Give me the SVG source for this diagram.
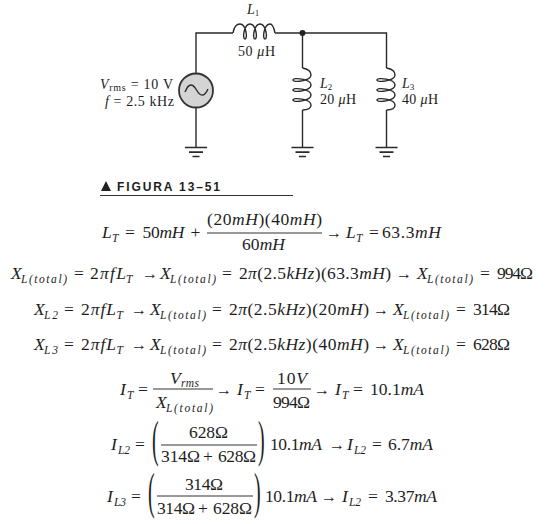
<svg xmlns="http://www.w3.org/2000/svg" width="545" height="524" viewBox="0 0 545 524">
<style>
text{font-family:"Liberation Serif",serif;fill:#1e1e1e}
.w{fill:none;stroke:#2a2a2a;stroke-width:1.4}
.c{fill:none;stroke:#2a2a2a;stroke-width:1.4}
.g{stroke:#2a2a2a;stroke-width:1.6}
.l{font-size:14px}
.e{font-size:17.500px}
.a{font-size:16px}
.s{font-size:11.500px;font-style:italic}
.i{font-style:italic}
.b{stroke:#333;stroke-width:1.100}
.p{font-size:20px}
</style>
<defs>
<g id="gnd"><path class="g" d="M-11,0H11M-7,4.600H7M-3.500,9H3.500"/></g>
<path id="vcoil" class="c" d="M0,0C5.500,1 8.500,3 8.500,7c0,6 -18,8 -18,5c0,-3 18,-1 18,5c0,6 -18,8 -18,5c0,-3 18,-1 18,5c0,6 -18,8 -18,5c0,-3 18,-1 18,5C8.500,40 5.500,42 0,42"/>
</defs>
<rect width="545" height="524" fill="#fff"/>
<g id="connectors">
<path class="w" d="M196,73V33H233M275,33H386.500V68M302.500,33V68M302.500,110V147M386.500,110V147M196,108V147"/>
</g>
<g id="L1"><path class="c" d="M233,33C234,27 236,24 240,24c6,0 8,15 5,15c-3,0 -1,-15 5,-15c6,0 8,15 5,15c-3,0 -1,-15 5,-15c6,0 8,15 5,15c-3,0 -1,-15 5,-15C273,24 274,28 275,33"/>
<text class="l" x="247" y="14"><tspan class="i">L</tspan><tspan font-size="9" dy="2">1</tspan></text>
<text class="l" x="238" y="56" textLength="37">50 <tspan class="i">μ</tspan>H</text></g>
<g id="L2"><use href="#vcoil" x="302.500" y="68"/>
<text class="l" x="320" y="88"><tspan class="i">L</tspan><tspan font-size="9" dy="2">2</tspan></text>
<text class="l" x="320" y="104" textLength="36">20 <tspan class="i">μ</tspan>H</text></g>
<g id="L3"><use href="#vcoil" x="386.500" y="68"/>
<text class="l" x="402" y="88"><tspan class="i">L</tspan><tspan font-size="9" dy="2">3</tspan></text>
<text class="l" x="402" y="104" textLength="36">40 <tspan class="i">μ</tspan>H</text></g>
<g id="junction"><circle cx="302.500" cy="33" r="3" fill="#222"/></g>
<g id="source"><circle cx="196" cy="90.500" r="17" fill="#d4d4d4" stroke="#333" stroke-width="1.800"/>
<path class="c" d="M185,92C189,82 193,84 196.500,90S204,98 208,89"/>
<text class="l" x="100" y="89" textLength="73"><tspan class="i">V</tspan><tspan font-size="10" dy="2">rms</tspan><tspan dy="-2"> = 10 V</tspan></text>
<text class="l" x="105" y="106" textLength="69"><tspan class="i">f</tspan> = 2.5 kHz</text></g>
<g id="ground1"><use href="#gnd" x="196" y="147.500"/></g>
<g id="ground2"><use href="#gnd" x="302.500" y="147.500"/></g>
<g id="ground3"><use href="#gnd" x="386.500" y="147.500"/></g>
<g id="caption"><path d="M101,191L106,181L111,191Z" fill="#222"/>
<text x="117" y="191" font-size="12" font-weight="bold" textLength="103" style="font-family:'Liberation Sans',sans-serif">FIGURA 13–51</text>
<path d="M100,195.500H293" stroke="#333" stroke-width="1.200"/></g>
<g id="equations">
<g id="eq1">
<text class="e i" x="102" y="238">L</text><text class="s" x="112" y="242">T</text>
<text class="e" x="125" y="238">=</text>
<text class="e" x="142.500" y="238" textLength="42">50<tspan class="i">mH</tspan></text>
<text class="e" x="190.500" y="238">+</text>
<text class="e" x="207" y="225" textLength="115">(20<tspan class="i">mH</tspan>)(40<tspan class="i">mH</tspan>)</text>
<path class="b" d="M207,233H322"/>
<text class="e" x="242" y="250" textLength="43">60<tspan class="i">mH</tspan></text>
<text class="a" x="326" y="238">→</text>
<text class="e i" x="346" y="238">L</text><text class="s" x="356" y="242">T</text>
<text class="e" x="369" y="238">=</text>
<text class="e" x="382" y="238" textLength="59">63.3<tspan class="i">mH</tspan></text>
</g>
<g id="eq2">
<text class="e i" x="11" y="279">X</text><text class="s" x="21" y="283" textLength="46">L(total)</text>
<text class="e" x="74" y="279">=</text>
<text class="e" x="90" y="279" textLength="36">2<tspan class="i">πfL</tspan></text><text class="s" x="126" y="283">T</text>
<text class="a" x="142" y="279">→</text>
<text class="e i" x="160" y="279">X</text><text class="s" x="170" y="283" textLength="46">L(total)</text>
<text class="e" x="222" y="279">=</text>
<text class="e" x="239" y="279" textLength="152">2<tspan class="i">π</tspan>(2.5<tspan class="i">kHz</tspan>)(63.3<tspan class="i">mH</tspan>)</text>
<text class="a" x="396" y="279">→</text>
<text class="e i" x="417" y="279">X</text><text class="s" x="427" y="283" textLength="46">L(total)</text>
<text class="e" x="480" y="279">=</text>
<text class="e" x="497" y="279" textLength="36">994Ω</text>
</g>
<g id="eq3">
<text class="e i" x="34" y="315">X</text><text class="s" x="44" y="319" textLength="14">L2</text>
<text class="e" x="64" y="315">=</text>
<text class="e" x="81" y="315" textLength="35">2<tspan class="i">πfL</tspan></text><text class="s" x="116.500" y="319">T</text>
<text class="a" x="131" y="315">→</text>
<text class="e i" x="150" y="315">X</text><text class="s" x="160" y="319" textLength="46">L(total)</text>
<text class="e" x="212" y="315">=</text>
<text class="e" x="229" y="315" textLength="140">2<tspan class="i">π</tspan>(2.5<tspan class="i">kHz</tspan>)(20<tspan class="i">mH</tspan>)</text>
<text class="a" x="373" y="315">→</text>
<text class="e i" x="393" y="315">X</text><text class="s" x="403" y="319" textLength="46">L(total)</text>
<text class="e" x="456" y="315">=</text>
<text class="e" x="473" y="315" textLength="37">314Ω</text>
</g>
<g id="eq4">
<text class="e i" x="34" y="350">X</text><text class="s" x="44" y="354" textLength="14">L3</text>
<text class="e" x="64" y="350">=</text>
<text class="e" x="81" y="350" textLength="35">2<tspan class="i">πfL</tspan></text><text class="s" x="116.500" y="354">T</text>
<text class="a" x="131" y="350">→</text>
<text class="e i" x="150" y="350">X</text><text class="s" x="160" y="354" textLength="46">L(total)</text>
<text class="e" x="212" y="350">=</text>
<text class="e" x="229" y="350" textLength="140">2<tspan class="i">π</tspan>(2.5<tspan class="i">kHz</tspan>)(40<tspan class="i">mH</tspan>)</text>
<text class="a" x="373" y="350">→</text>
<text class="e i" x="393" y="350">X</text><text class="s" x="403" y="354" textLength="46">L(total)</text>
<text class="e" x="456" y="350">=</text>
<text class="e" x="473" y="350" textLength="37">628Ω</text>
</g>
<g id="eq5">
<text class="e i" x="120" y="395">I</text><text class="s" x="127" y="399">T</text>
<text class="e" x="138" y="395">=</text>
<text class="e i" x="170" y="384">V</text><text class="s" x="181" y="387" textLength="18">rms</text>
<path class="b" d="M153,389H213"/>
<text class="e i" x="156" y="408">X</text><text class="s" x="166" y="412" textLength="47">L(total)</text>
<text class="a" x="216" y="395">→</text>
<text class="e i" x="237" y="395">I</text><text class="s" x="244" y="399">T</text>
<text class="e" x="255" y="395">=</text>
<text class="e" x="277" y="384" textLength="30">10<tspan class="i">V</tspan></text>
<path class="b" d="M273,389H311"/>
<text class="e" x="273" y="408" textLength="37">994Ω</text>
<text class="a" x="314" y="395">→</text>
<text class="e i" x="335" y="395">I</text><text class="s" x="342" y="399">T</text>
<text class="e" x="353" y="395">=</text>
<text class="e" x="370" y="395" textLength="54">10.1<tspan class="i">mA</tspan></text>
</g>
<g id="eq6">
<text class="e i" x="111" y="450">I</text><text class="s" x="118" y="454" textLength="12">L2</text>
<text class="e" x="135" y="450">=</text>
<text class="p" transform="translate(152,456) scale(1,2.500)">(</text>
<text class="e" x="189" y="438" textLength="39">628Ω</text>
<path class="b" d="M161,445H257"/>
<text class="e" x="161" y="462" textLength="39">314Ω</text>
<text class="e" x="203" y="462">+</text>
<text class="e" x="218" y="462" textLength="38">628Ω</text>
<text class="p" transform="translate(258,456) scale(1,2.500)">)</text>
<text class="e" x="270" y="450" textLength="52">10.1<tspan class="i">mA</tspan></text>
<text class="a" x="329" y="450">→</text>
<text class="e i" x="347" y="450">I</text><text class="s" x="354" y="454" textLength="12">L2</text>
<text class="e" x="372" y="450">=</text>
<text class="e" x="388" y="450" textLength="45">6.7<tspan class="i">mA</tspan></text>
</g>
<g id="eq7">
<text class="e i" x="107" y="502">I</text><text class="s" x="114" y="506" textLength="12">L3</text>
<text class="e" x="131" y="502">=</text>
<text class="p" transform="translate(148,508) scale(1,2.500)">(</text>
<text class="e" x="185" y="490" textLength="38">314Ω</text>
<path class="b" d="M157,496H253"/>
<text class="e" x="157" y="514" textLength="38">314Ω</text>
<text class="e" x="198" y="514">+</text>
<text class="e" x="213" y="514" textLength="39">628Ω</text>
<text class="p" transform="translate(254,508) scale(1,2.500)">)</text>
<text class="e" x="265" y="502" textLength="52">10.1<tspan class="i">mA</tspan></text>
<text class="a" x="321" y="502">→</text>
<text class="e i" x="342" y="502">I</text><text class="s" x="349" y="506" textLength="12">L2</text>
<text class="e" x="368" y="502">=</text>
<text class="e" x="385" y="502" textLength="52">3.37<tspan class="i">mA</tspan></text>
</g>
</g>
</svg>
